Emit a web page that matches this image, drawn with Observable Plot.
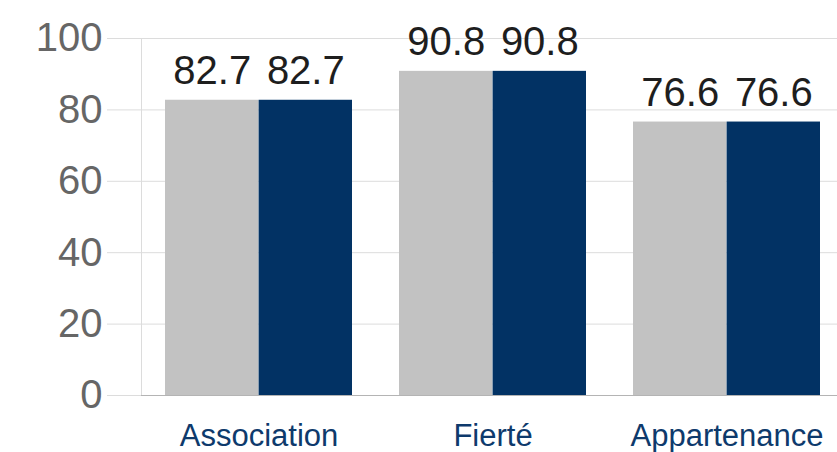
<!DOCTYPE html>
<html>
<head>
<meta charset="utf-8">
<script src="https://cdn.jsdelivr.net/npm/d3@7"></script>
<script src="https://cdn.jsdelivr.net/npm/@observablehq/plot@0.6"></script>
<style>
  html, body { margin: 0; padding: 0; background: #fff; }
  #chart svg { display: block; }
</style>
</head>
<body>
<div id="chart"></div>
<script>
const categories = ["Association", "Fierté", "Appartenance"];
const seriesA = [82.7, 90.8, 76.6];
const seriesB = [82.7, 90.8, 76.6];
const yTicks = [0, 20, 40, 60, 80, 100];

const rowsA = categories.map((c, i) => ({category: c, value: seriesA[i]}));
const rowsB = categories.map((c, i) => ({category: c, value: seriesB[i]}));

const half = 93.6;
const fmt = d => d.toFixed(1);

const plot = Plot.plot({
  width: 837,
  height: 452,
  marginLeft: 141,
  marginRight: 0,
  marginTop: 38,
  marginBottom: 57,
  style: {fontFamily: "'Liberation Sans', Arial, sans-serif", background: "#fff"},
  x: {domain: categories, paddingInner: 0.2, paddingOuter: 0.087, align: 0.6, label: null},
  y: {domain: [0, 100], label: null},
  marks: [
    Plot.gridY(yTicks, {stroke: "#dcdcdc", strokeOpacity: 1}),
    Plot.frame({anchor: "left", stroke: "#dcdcdc"}),
    Plot.ruleY([0], {stroke: "#b4b4b4"}),
    Plot.barY(rowsA, {x: "category", y: "value", fill: "#c2c2c2", insetRight: half, insetLeft: 0}),
    Plot.barY(rowsB, {x: "category", y: "value", fill: "#023264", insetLeft: half, insetRight: 0}),
    Plot.text(rowsA, {x: "category", y: "value", text: d => fmt(d.value), dx: -half / 2, dy: -16, lineAnchor: "bottom", fontSize: 40, fill: "#1e1e1e"}),
    Plot.text(rowsB, {x: "category", y: "value", text: d => fmt(d.value), dx: half / 2, dy: -16, lineAnchor: "bottom", fontSize: 40, fill: "#1e1e1e"}),
    Plot.axisY(yTicks, {tickSize: 34, tickPadding: 5, stroke: "#dcdcdc", fill: "#666", fontSize: 40, label: null}),
    Plot.axisX({tickSize: 0, tickPadding: 28, fontSize: 31, fill: "#0e3a6c", label: null})
  ]
});
document.getElementById("chart").appendChild(plot);
</script>
</body>
</html>
